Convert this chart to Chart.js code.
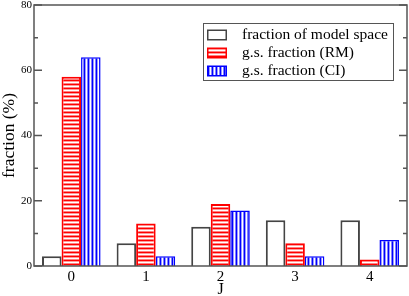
<!DOCTYPE html>
<html>
<head>
<meta charset="utf-8">
<script src="https://cdn.jsdelivr.net/npm/chart.js@4.4.1/dist/chart.umd.min.js"></script>
<style>
  html, body { margin: 0; padding: 0; background: #fff; }
  canvas { display: block; }
</style>
</head>
<body>
<canvas id="chart" width="409" height="296"></canvas>
<script>
const jValues = ["0", "1", "2", "3", "4"];
const modelSpace = [3, 7, 12, 14, 14];
const gsRM = [58, 13, 19, 7, 2];
const gsCI = [64, 3, 17, 3, 8];
const yTicks = [0, 20, 40, 60, 80];
const seriesLabels = ["fraction of model space", "g.s. fraction (RM)", "g.s. fraction (CI)"];

const SERIF = "'Liberation Serif', 'DejaVu Serif', serif";
const canvas = document.getElementById("chart");
const ctx = canvas.getContext("2d");

// striped fills, like the hatch patterns in the original plot
function stripes(colors, vertical) {
  const p = document.createElement("canvas");
  p.width = vertical ? colors.length : 1;
  p.height = vertical ? 1 : colors.length;
  const c = p.getContext("2d");
  colors.forEach((col, i) => {
    c.fillStyle = col;
    if (vertical) c.fillRect(i, 0, 1, 1);
    else c.fillRect(0, i, 1, 1);
  });
  return ctx.createPattern(p, "repeat");
}
const redFill = stripes(["#ff0000", "#ff9a9a", "#ffffff", "#ff8080"], false);
const blueFill = stripes(["#0000ff", "#9a9aff", "#ffffff", "#8080ff"], true);

// box around the plot with inward ticks on both sides
const framePlugin = {
  id: "frame",
  afterDatasetsDraw(chart) {
    const { ctx, chartArea: a, scales: { y } } = chart;
    ctx.save();
    ctx.strokeStyle = "#555";
    ctx.lineWidth = 1.5;
    ctx.strokeRect(a.left, a.top, a.right - a.left, a.bottom - a.top);
    ctx.beginPath();
    yTicks.forEach((v, i) => {
      const py = y.getPixelForValue(v);
      ctx.moveTo(a.left, py); ctx.lineTo(a.left + 8, py);
      ctx.moveTo(a.right, py); ctx.lineTo(a.right - 8, py);
      if (i < yTicks.length - 1) {
        const pm = y.getPixelForValue((v + yTicks[i + 1]) / 2);
        ctx.moveTo(a.left, pm); ctx.lineTo(a.left + 4, pm);
        ctx.moveTo(a.right, pm); ctx.lineTo(a.right - 4, pm);
      }
    });
    ctx.stroke();
    ctx.restore();
  }
};

const legendPlugin = {
  id: "boxLegend",
  afterDraw(chart) {
    const ctx = chart.ctx;
    const x0 = 203, y0 = 23, w = 190, h = 57;
    ctx.save();
    ctx.fillStyle = "#fff";
    ctx.fillRect(x0, y0, w, h);
    ctx.strokeStyle = "#555";
    ctx.lineWidth = 1;
    ctx.strokeRect(x0 + 0.5, y0 + 0.5, w, h);
    // size the text so the longest entry spans the same width as in the original
    ctx.font = "14px " + SERIF;
    const longest = Math.max(...chart.data.datasets.map(ds => ctx.measureText(ds.label).width));
    const size = Math.min(17, 14 * 146 / longest);
    ctx.font = size.toFixed(2) + "px " + SERIF;
    ctx.textBaseline = "middle";
    chart.data.datasets.forEach((ds, i) => {
      const cy = 34.5 + i * 18;
      ctx.fillStyle = ds.borderColor;
      ctx.fillRect(207, cy - 5, 20, 11);
      ctx.fillStyle = ds.backgroundColor;
      ctx.fillRect(208.5, cy - 3.5, 17, 8);
      ctx.fillStyle = "#000";
      ctx.fillText(ds.label, 242, cy + 0.5);
    });
    ctx.restore();
  }
};

new Chart(canvas, {
  type: "bar",
  data: {
    labels: jValues,
    datasets: [
      {
        label: seriesLabels[0],
        data: modelSpace,
        backgroundColor: "#ffffff",
        borderColor: "#444444",
        borderWidth: 2,
      },
      {
        label: seriesLabels[1],
        data: gsRM,
        backgroundColor: redFill,
        borderColor: "#ff0000",
        borderWidth: 2,
      },
      {
        label: seriesLabels[2],
        data: gsCI,
        backgroundColor: blueFill,
        borderColor: "#0000ff",
        borderWidth: 1.5,
      },
    ],
  },
  options: {
    responsive: false,
    animation: false,
    devicePixelRatio: 1,
    layout: { padding: { top: 5, right: 2, left: 0, bottom: 0 } },
    datasets: { bar: { categoryPercentage: 0.785, barPercentage: 1 } },
    plugins: { legend: { display: false }, tooltip: { enabled: false } },
    scales: {
      x: {
        grid: { display: false, drawTicks: false },
        border: { display: false },
        ticks: { color: "#000", padding: 2, font: { family: SERIF, size: 15 } },
        title: {
          display: true, text: "J", color: "#000",
          font: { family: SERIF, size: 16, lineHeight: 1 },
          padding: { top: 0, bottom: -2 },
        },
        afterFit(s) { s.height = 30; s.paddingLeft = 0; s.paddingRight = 0; },
      },
      y: {
        min: 0,
        max: 80,
        grid: { display: false, drawTicks: false },
        border: { display: false },
        afterBuildTicks(s) { s.ticks = yTicks.map(v => ({ value: v })); },
        ticks: { color: "#000", padding: 2, font: { family: SERIF, size: 11 } },
        title: {
          display: true, text: "fraction (%)", color: "#000",
          font: { family: SERIF, size: 17.5, lineHeight: 1 },
          padding: { top: 0.5, bottom: 0 },
        },
        afterFit(s) { s.width = 34; s.paddingTop = 0; s.paddingBottom = 0; },
      },
    },
  },
  plugins: [framePlugin, legendPlugin],
});
</script>
</body>
</html>
